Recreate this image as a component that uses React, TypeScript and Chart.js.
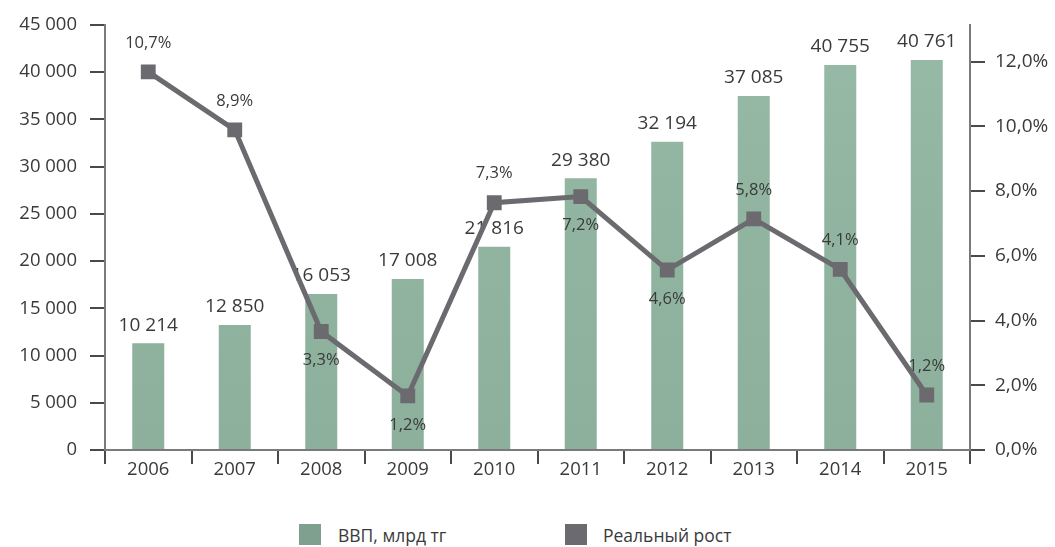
import React, { useEffect, useRef } from "react";
import { Chart, registerables } from "chart.js";

Chart.register(...registerables);

// ---- data ----
const categories = ["2006", "2007", "2008", "2009", "2010", "2011", "2012", "2013", "2014", "2015"];
// GDP, bln tenge: printed labels
const gdpValues = [10214, 12850, 16053, 17008, 21816, 29380, 32194, 37085, 40755, 40761];
// bar heights as drawn in the picture (left axis units)
const gdpBarHeights = [11300, 13240, 16520, 18100, 21530, 28770, 32640, 37480, 40770, 41290];
// real growth, %: printed labels
const growthValues = [10.7, 8.9, 3.3, 1.2, 7.3, 7.2, 4.6, 5.8, 4.1, 1.2];
// point positions as drawn in the picture (right axis units)
const growthPoints = [11.68, 9.89, 3.66, 1.67, 7.64, 7.83, 5.56, 7.14, 5.58, 1.7];
// label side for each growth label
const growthLabelSide = ["above", "above", "below", "below", "above", "below", "below", "above", "above", "above"];
const leftTicks = [0, 5000, 10000, 15000, 20000, 25000, 30000, 35000, 40000, 45000];
const rightTicks = [0, 2, 4, 6, 8, 10, 12];
const seriesNames = ["ВВП, млрд тг", "Реальный рост"];

const FONT = "'Open Sans', sans-serif";
const TEXT = "#3a3a3a";
const LINE_COLOR = "#6a6a6f";
const AXIS_COLOR = "#7a7a7a";

const fmtThousands = (v: number) => {
  const s = Math.round(v).toString();
  return s.replace(/\B(?=(\d{3})+(?!\d))/g, " ");
};
const fmtPct = (v: number, d: number) => v.toFixed(d).replace(".", ",") + "%";

const labelsPlugin = {
  id: "valueLabels",
  afterDatasetDraw(chart: any, args: any) {
    const ctx = chart.ctx;
    const meta = args.meta;
    ctx.save();
    ctx.fillStyle = TEXT;
    ctx.textAlign = "center";
    ctx.textBaseline = "middle";
    if (args.index === 0) {
      ctx.font = `19px ${FONT}`;
      meta.data.forEach((el: any, i: number) => {
        ctx.fillText(fmtThousands(gdpValues[i]), el.x, el.y - 18);
      });
    } else if (args.index === 1) {
      ctx.font = `16.5px ${FONT}`;
      meta.data.forEach((el: any, i: number) => {
        const dy = growthLabelSide[i] === "above" ? -29 : 29;
        ctx.fillText(fmtPct(growthValues[i], 1), el.x, el.y + dy);
      });
    }
    ctx.restore();
  },
};

function makeBarFill(ctx: CanvasRenderingContext2D) {
  const g = ctx.createLinearGradient(0, 25, 0, 450);
  g.addColorStop(0, "#97baa7");
  g.addColorStop(0.5, "#90b4a0");
  g.addColorStop(1, "#8cb09b");
  return g;
}

export default function App() {
  const ref = useRef<HTMLCanvasElement | null>(null);

  useEffect(() => {
    const canvas = ref.current!;
    const ctx = canvas.getContext("2d")!;
    const chart = new Chart(ctx, {
      type: "bar",
      data: {
        labels: categories,
        datasets: [
          {
            type: "bar",
            label: seriesNames[0],
            data: gdpBarHeights,
            backgroundColor: makeBarFill(ctx),
            borderWidth: 0,
            barPercentage: 0.37,
            categoryPercentage: 1,
            yAxisID: "y",
            order: 1,
          },
          {
            type: "line",
            label: seriesNames[1],
            data: growthPoints,
            borderColor: LINE_COLOR,
            backgroundColor: LINE_COLOR,
            borderWidth: 5,
            pointStyle: "rect",
            pointRadius: 10.5,
            pointBorderWidth: 0,
            pointBackgroundColor: LINE_COLOR,
            tension: 0,
            yAxisID: "y1",
            order: 0,
          },
        ],
      },
      options: {
        animation: false,
        responsive: false,
        maintainAspectRatio: false,
        layout: { padding: { top: 25, left: 0, right: 0, bottom: 0 } },
        plugins: { legend: { display: false }, tooltip: { enabled: false } },
        scales: {
          x: {
            type: "category",
            offset: true,
            grid: {
              offset: true,
              drawOnChartArea: false,
              drawTicks: true,
              tickLength: 14,
              color: "#4a4a4a",
              lineWidth: 2,
            },
            border: { display: true, color: AXIS_COLOR, width: 2 },
            ticks: { color: TEXT, font: { family: FONT, size: 18.5 }, padding: -5, maxRotation: 0 },
            afterFit: (s: any) => {
              s.height = 50;
            },
          },
          y: {
            position: "left",
            min: 0,
            max: 45000,
            afterBuildTicks: (s: any) => {
              s.ticks = leftTicks.map((v) => ({ value: v }));
            },
            grid: { drawOnChartArea: false, tickLength: 15, color: "#4a4a4a", lineWidth: 2 },
            border: { display: true, color: AXIS_COLOR, width: 2 },
            ticks: {
              color: TEXT,
              font: { family: FONT, size: 18.5 },
              padding: 13,
              callback: (v: any) => fmtThousands(Number(v)),
            },
            afterFit: (s: any) => {
              s.width = 105;
            },
          },
          y1: {
            position: "right",
            min: 0,
            max: 13.13,
            afterBuildTicks: (s: any) => {
              s.ticks = rightTicks.map((v) => ({ value: v }));
            },
            grid: { drawOnChartArea: false, tickLength: 15, color: "#4a4a4a", lineWidth: 2 },
            border: { display: true, color: AXIS_COLOR, width: 2 },
            ticks: {
              color: TEXT,
              font: { family: FONT, size: 19 },
              padding: 10,
              callback: (v: any) => fmtPct(Number(v), 1),
            },
            afterFit: (s: any) => {
              s.width = 85;
            },
          },
        },
      },
      plugins: [labelsPlugin],
    });
    return () => chart.destroy();
  }, []);

  const legendText: React.CSSProperties = {
    position: "absolute",
    top: 522,
    font: `17.5px ${FONT}`,
    color: TEXT,
    lineHeight: "26px",
    whiteSpace: "nowrap",
  };

  return (
    <div
      style={{
        position: "fixed",
        left: 0,
        top: 0,
        width: 1055,
        height: 547,
        background: "#ffffff",
        overflow: "hidden",
      }}
    >
      <canvas ref={ref} width={1055} height={500} style={{ position: "absolute", left: 0, top: 0 }} />
      <div style={{ position: "absolute", left: 299, top: 524, width: 22, height: 21, background: "#7fa08e" }} />
      <div style={{ ...legendText, left: 338 }}>{seriesNames[0]}</div>
      <div style={{ position: "absolute", left: 565, top: 524, width: 22, height: 21, background: LINE_COLOR }} />
      <div style={{ ...legendText, left: 603 }}>{seriesNames[1]}</div>
    </div>
  );
}
